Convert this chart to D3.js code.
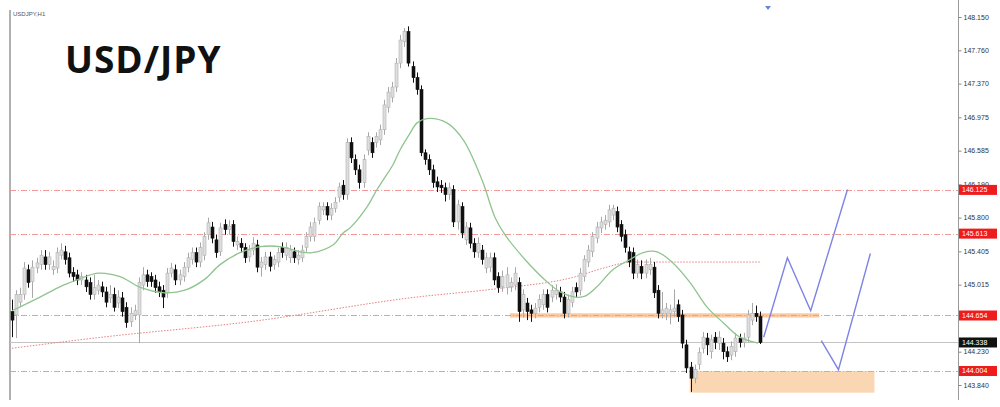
<!DOCTYPE html>
<html><head><meta charset="utf-8">
<script src="https://cdn.jsdelivr.net/npm/d3@7"></script>
<style>html,body{margin:0;padding:0;background:#fff;}svg{display:block;}</style>
</head><body>
<svg id="chart" width="1000" height="407"></svg>
<script>
const open = [144.70,144.66,144.81,144.90,145.19,145.05,145.21,145.25,145.34,145.25,
 145.19,145.21,145.36,145.40,145.33,145.16,145.13,145.07,145.07,145.04,
 144.90,144.95,144.99,144.93,144.86,144.90,144.80,144.86,144.75,144.58,
 144.66,144.66,145.01,145.13,145.11,145.07,144.99,144.95,144.92,145.15,
 145.19,145.07,145.11,145.22,145.31,145.39,145.28,145.36,145.60,145.69,
 145.54,145.40,145.72,145.66,145.72,145.48,145.50,145.45,145.34,145.42,
 145.48,145.22,145.25,145.34,145.25,145.28,145.45,145.36,145.33,145.40,
 145.31,145.33,145.45,145.58,145.58,145.77,145.89,145.93,145.83,145.91,
 146.04,146.18,146.07,146.68,146.48,146.36,146.21,146.59,146.68,146.68,
 146.71,146.83,147.09,147.21,147.33,147.61,147.86,147.98,147.57,147.44,
 147.30,146.56,146.48,146.36,146.22,146.18,146.15,146.07,146.13,145.75,
 145.93,145.54,145.68,145.50,145.39,145.42,145.21,145.22,145.33,145.11,
 144.99,144.98,144.99,145.01,145.04,144.72,144.80,144.72,144.68,144.75,
 144.78,144.90,144.87,144.90,144.93,144.87,144.68,144.81,144.98,144.95,
 145.11,145.28,145.40,145.56,145.68,145.72,145.75,145.83,145.87,145.72,
 145.60,145.40,145.39,145.15,145.23,145.15,145.19,145.22,144.95,144.68,
 144.68,144.68,144.70,144.78,144.66,144.31,144.05,143.92,144.08,144.27,
 144.39,144.23,144.40,144.33,144.33,144.23,144.19,144.23,144.39,144.34,
 144.40,144.60,144.68,144.64];
const high = [144.84,144.95,144.98,145.28,145.25,145.30,145.33,145.42,145.42,145.40,
 145.30,145.45,145.50,145.47,145.39,145.22,145.19,145.16,145.13,145.10,
 145.13,145.07,145.05,144.99,145.01,144.98,144.95,144.93,144.81,144.75,
 144.78,145.10,145.22,145.19,145.16,145.13,145.05,145.01,145.21,145.27,
 145.25,145.19,145.28,145.39,145.45,145.45,145.51,145.63,145.80,145.75,
 145.60,145.74,145.78,145.77,145.77,145.58,145.56,145.50,145.48,145.57,
 145.54,145.34,145.40,145.40,145.36,145.45,145.51,145.51,145.48,145.45,
 145.42,145.48,145.63,145.75,145.80,145.98,145.98,145.98,145.97,146.04,
 146.21,146.24,146.73,146.74,146.54,146.42,146.54,146.80,146.74,146.80,
 146.89,147.18,147.33,147.39,147.67,147.94,148.02,148.04,147.63,147.50,
 147.35,146.60,146.54,146.42,146.28,146.24,146.21,146.21,146.18,146.01,
 145.98,145.75,145.74,145.56,145.57,145.48,145.39,145.39,145.39,145.16,
 145.18,145.22,145.10,145.22,145.10,144.96,144.86,144.78,144.80,144.90,
 144.96,144.96,145.01,145.02,144.99,144.93,144.90,144.99,145.04,145.21,
 145.36,145.48,145.63,145.75,145.81,145.83,145.95,145.95,145.93,145.77,
 145.66,145.46,145.45,145.31,145.30,145.31,145.33,145.28,145.01,144.93,
 144.80,144.78,144.96,144.84,144.72,144.37,144.11,144.08,144.28,144.46,
 144.45,144.43,144.46,144.47,144.39,144.29,144.35,144.45,144.44,144.45,
 144.72,144.80,144.77,144.70];
const low = [144.40,144.39,144.75,144.84,144.98,144.86,145.15,145.19,145.19,145.19,
 145.13,145.15,145.31,145.25,145.10,145.05,145.01,145.01,144.93,144.84,
 144.84,144.90,144.87,144.75,144.80,144.70,144.74,144.64,144.51,144.52,
 144.60,144.33,144.95,144.99,144.99,144.92,144.87,144.74,144.86,145.10,
 145.01,145.01,145.05,145.16,145.25,145.22,145.22,145.30,145.54,145.50,
 145.33,145.35,145.60,145.60,145.46,145.42,145.39,145.27,145.28,145.36,
 145.16,145.11,145.19,145.17,145.19,145.22,145.33,145.30,145.27,145.27,
 145.25,145.28,145.40,145.52,145.52,145.72,145.83,145.77,145.77,145.86,
 145.98,146.01,146.01,146.44,146.30,146.14,146.15,146.53,146.50,146.62,
 146.65,146.77,147.03,147.15,147.27,147.55,147.80,147.57,147.38,147.24,
 146.52,146.42,146.30,146.15,146.10,146.09,145.99,146.01,145.69,145.66,
 145.56,145.48,145.44,145.33,145.33,145.25,145.15,145.16,145.01,144.92,
 144.93,144.90,144.93,144.95,144.58,144.63,144.60,144.58,144.62,144.69,
 144.72,144.69,144.81,144.84,144.81,144.62,144.63,144.75,144.87,144.89,
 145.05,145.22,145.34,145.50,145.62,145.66,145.69,145.77,145.63,145.52,
 145.39,145.22,145.08,145.09,145.08,145.09,145.13,144.86,144.62,144.62,
 144.60,144.55,144.64,144.58,144.27,143.98,143.76,143.86,144.02,144.21,
 144.19,144.15,144.26,144.25,144.14,144.11,144.13,144.17,144.28,144.28,
 144.34,144.54,144.58,144.32];
const close = [144.60,144.90,144.90,145.21,145.04,145.22,145.27,145.36,145.25,145.34,
 145.23,145.39,145.42,145.31,145.15,145.11,145.07,145.11,144.99,144.90,
 144.98,145.01,144.93,144.81,144.90,144.75,144.87,144.70,144.57,144.68,
 144.71,145.04,145.13,145.05,145.05,144.98,144.93,144.87,145.15,145.21,
 145.07,145.13,145.22,145.33,145.39,145.28,145.45,145.58,145.74,145.56,
 145.39,145.68,145.66,145.70,145.52,145.52,145.45,145.33,145.42,145.50,
 145.22,145.28,145.34,145.23,145.31,145.39,145.39,145.45,145.42,145.33,
 145.36,145.42,145.58,145.69,145.74,145.93,145.93,145.83,145.91,145.98,
 146.16,146.07,146.68,146.50,146.36,146.21,146.48,146.75,146.56,146.75,
 146.83,147.12,147.27,147.33,147.61,147.88,147.98,147.61,147.44,147.30,
 146.56,146.48,146.36,146.21,146.16,146.15,146.07,146.15,145.75,145.95,
 145.62,145.69,145.50,145.40,145.50,145.31,145.33,145.33,145.07,144.98,
 145.11,145.13,145.04,145.15,144.70,144.90,144.70,144.68,144.74,144.84,
 144.90,144.75,144.95,144.95,144.87,144.68,144.84,144.93,144.93,145.15,
 145.31,145.42,145.58,145.69,145.75,145.77,145.89,145.91,145.69,145.58,
 145.45,145.28,145.15,145.25,145.15,145.25,145.25,144.92,144.68,144.72,
 144.74,144.72,144.74,144.64,144.33,144.04,143.92,144.02,144.22,144.40,
 144.31,144.37,144.34,144.40,144.23,144.17,144.29,144.39,144.34,144.39,
 144.66,144.68,144.64,144.338];

// Fast moving average (green), sampled at candle indices
const maFastIdx = [0,6.85,11.7,15.9,21,26.4,31.6,37.4,42.3,47.2,50.9,55.8,60.7,65.6,70.5,73.4,78.5,81,82.7,86.9,89.3,90.8,93.2,94.9,97.4,99.1,101.5,106.4,110.4,115,118.2,120.6,125.5,130.4,134.1,137.8,140.2,143.1,147,151.2,154.4,157.8,161.7,165.9,170.1,174,178.1,182.5];
const maFastVal = [144.71,144.87,144.99,145.07,145.15,145.11,144.98,144.92,144.95,145.08,145.25,145.39,145.46,145.46,145.40,145.39,145.48,145.62,145.68,145.93,146.13,146.24,146.42,146.59,146.79,146.91,146.96,146.91,146.71,146.24,145.80,145.60,145.31,145.07,144.93,144.87,144.88,144.99,145.19,145.31,145.39,145.40,145.27,145.04,144.75,144.57,144.40,144.33];
// Slow moving average (red dotted)
const maSlowIdx = [0,22,58,99,119,138,144,152,158,183];
const maSlowVal = [144.27,144.40,144.58,144.87,144.97,145.11,145.20,145.28,145.28,145.28];

// Horizontal levels
const levelValues = [146.125,145.613,144.654,144.004];
const levelLabels = ["146.125","145.613","144.654","144.004"];
const currentPrice = 144.338;
const currentLabel = "144.338";

// Axis tick labels
const tickValues = [148.150,147.760,147.370,146.975,146.585,146.190,145.800,145.405,145.015,144.230,143.840];
const tickLabels = ["148.150","147.760","147.370","146.975","146.585","146.190","145.800","145.405","145.015","144.230","143.840"];

// Zones (candle index range, price range)
const bandZoneIdx = [121.8,197.5];
const bandZonePrice = [144.63,144.68];
const boxZoneIdx = [165.8,211];
const boxZonePrice = [143.75,144.004];

// Projected paths (candle index, price)
const proj1Idx = [183.9,189.7,195.4,204.4];
const proj1Val = [144.40,145.33,144.71,146.13];
const proj2Idx = [198.0,202.2,210.0];
const proj2Val = [144.36,144.02,145.38];

const svg = d3.select("#chart");
const axisX = 958, leftX = 10;

const x = d3.scaleLinear().domain([0, 183]).range([12, 760]);
const y = d3.scaleLinear().domain([143.84, 148.15]).range([385, 17]);

// frame
svg.append("line").attr("x1", leftX).attr("x2", leftX).attr("y1", 10).attr("y2", 400)
  .attr("stroke", "#b0b0b0").attr("stroke-width", 2);

// zones
svg.append("rect")
  .attr("x", x(boxZoneIdx[0])).attr("width", x(boxZoneIdx[1]) - x(boxZoneIdx[0]))
  .attr("y", y(boxZonePrice[1])).attr("height", y(boxZonePrice[0]) - y(boxZonePrice[1]))
  .attr("fill", "#fbd6b3");
svg.append("rect")
  .attr("x", x(bandZoneIdx[0])).attr("width", x(bandZoneIdx[1]) - x(bandZoneIdx[0]))
  .attr("y", y(bandZonePrice[1])).attr("height", y(bandZonePrice[0]) - y(bandZonePrice[1]))
  .attr("fill", "#fcc9a0");

// level lines
levelValues.forEach(v => {
  svg.append("line").attr("x1", leftX).attr("x2", axisX)
    .attr("y1", Math.round(y(v)) + 0.5).attr("y2", Math.round(y(v)) + 0.5)
    .attr("stroke", "#f29a9a").attr("stroke-width", 1).attr("stroke-dasharray", "6,2,1,2");
});
svg.append("line").attr("x1", leftX).attr("x2", axisX)
  .attr("y1", Math.round(y(currentPrice)) + 0.5).attr("y2", Math.round(y(currentPrice)) + 0.5)
  .attr("stroke", "#c4c4c4").attr("stroke-width", 1);

// slow MA
const idxLine = (xs, vs) => xs.map((d, i) => [x(d), y(vs[i])]);
svg.append("path").attr("d", d3.line().curve(d3.curveMonotoneX)(idxLine(maSlowIdx, maSlowVal)))
  .attr("fill", "none").attr("stroke", "#e88080").attr("stroke-width", 1).attr("stroke-dasharray", "1.5,1.5");

// candles
const bw = 3;
const candles = svg.append("g");
close.forEach((c, i) => {
  const o = open[i];
  const bull = c >= o;
  const cx = Math.round(x(i)) + 0.5;
  const col = bull ? "#a8a8a8" : "#111";
  candles.append("line").attr("x1", cx).attr("x2", cx).attr("y1", y(high[i])).attr("y2", y(low[i]))
    .attr("stroke", col).attr("stroke-width", 1);
  const top = y(Math.max(o, c)), bot = y(Math.min(o, c));
  candles.append("rect").attr("x", cx - bw / 2).attr("width", bw)
    .attr("y", top).attr("height", Math.max(1, bot - top))
    .attr("fill", bull ? "#dedede" : "#111").attr("stroke", bull ? "#b0b0b0" : "#111").attr("stroke-width", 0.6);
});

// fast MA
svg.append("path").attr("d", d3.line().curve(d3.curveCatmullRom)(idxLine(maFastIdx, maFastVal)))
  .attr("fill", "none").attr("stroke", "#8fc48f").attr("stroke-width", 1.3);

// projections
[[proj1Idx, proj1Val], [proj2Idx, proj2Val]].forEach(([xs, vs]) => {
  svg.append("path").attr("d", d3.line()(idxLine(xs, vs)))
    .attr("fill", "none").attr("stroke", "#7d83e6").attr("stroke-width", 1.4);
});

// axis
svg.append("line").attr("x1", axisX + 0.5).attr("x2", axisX + 0.5).attr("y1", 0).attr("y2", 400)
  .attr("stroke", "#9a9a9a").attr("stroke-width", 1);
const axis = d3.axisRight(y).tickValues(tickValues).tickSize(3).tickPadding(2)
  .tickFormat((d, i) => tickLabels[i]);
const ag = svg.append("g").attr("transform", `translate(${axisX + 0.5},0)`).call(axis);
ag.select(".domain").remove();
ag.selectAll(".tick line").attr("stroke", "#888");
ag.selectAll(".tick text").attr("font-family", "Liberation Sans, Arial, sans-serif").attr("font-size", 7).attr("fill", "#333");

// level labels
levelValues.forEach((v, i) => {
  const yy = y(v);
  svg.append("rect").attr("x", axisX + 1).attr("y", yy - 5).attr("width", 38).attr("height", 10).attr("fill", "#ee1c1c");
  svg.append("text").attr("x", axisX + 4).attr("y", yy + 2.5).text(levelLabels[i])
    .attr("font-family", "Liberation Sans, Arial, sans-serif").attr("font-size", 7).attr("fill", "#fff");
});
{
  const yy = y(currentPrice);
  svg.append("rect").attr("x", axisX + 1).attr("y", yy - 5).attr("width", 38).attr("height", 10).attr("fill", "#111");
  svg.append("text").attr("x", axisX + 4).attr("y", yy + 2.5).text(currentLabel)
    .attr("font-family", "Liberation Sans, Arial, sans-serif").attr("font-size", 7).attr("fill", "#fff");
}

// small symbol label and marker
svg.append("text").attr("x", 13).attr("y", 16).text("USDJPY,H1")
  .attr("font-family", "Liberation Sans, Arial, sans-serif").attr("font-size", 6).attr("fill", "#555");
svg.append("path").attr("d", "M765,6 L771,6 L768,10 Z").attr("fill", "#6a85d8");

// title
svg.append("text").attr("x", 65).attr("y", 73).text("USD/JPY")
  .attr("font-family", "Open Sans, sans-serif").attr("font-weight", 700).attr("font-size", 37)
  .attr("letter-spacing", 1).attr("fill", "#111");
</script>
</body></html>
